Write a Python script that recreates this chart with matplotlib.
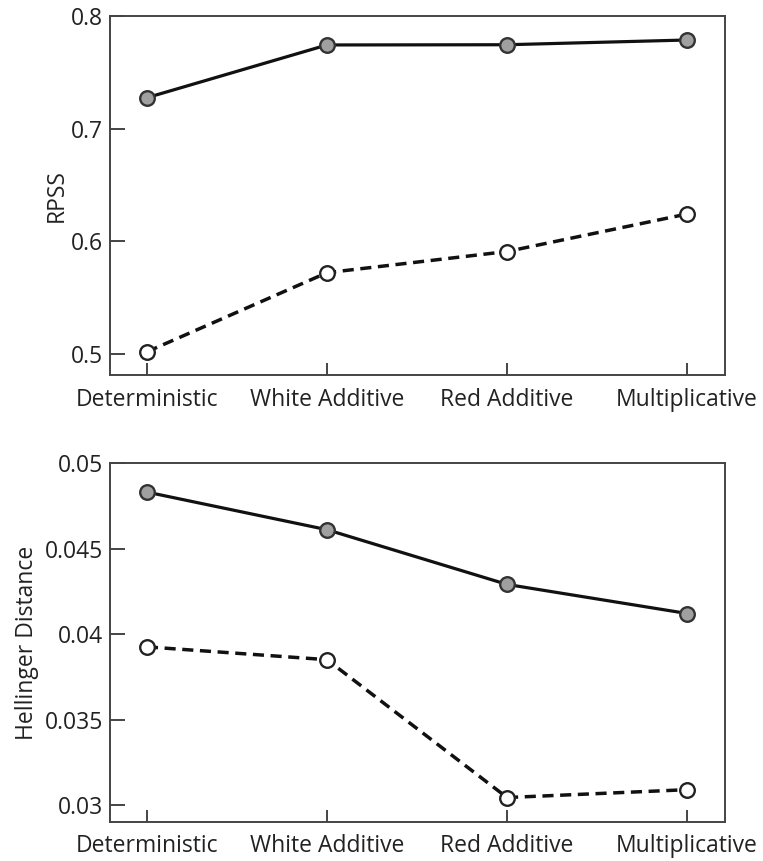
import matplotlib
matplotlib.use("Agg")
import matplotlib.pyplot as plt

categories = ["Deterministic", "White Additive", "Red Additive", "Multiplicative"]

rpss_solid = [0.7275, 0.7743, 0.7745, 0.7787]
rpss_dashed = [0.502, 0.5722, 0.591, 0.6243]

hell_solid = [0.0483, 0.0461, 0.0429, 0.0412]
hell_dashed = [0.03925, 0.0385, 0.03044, 0.0309]

rpss_ticks = [0.5, 0.6, 0.7, 0.8]
rpss_ticklabels = ["0.5", "0.6", "0.7", "0.8"]
hell_ticks = [0.03, 0.035, 0.04, 0.045, 0.05]
hell_ticklabels = ["0.03", "0.035", "0.04", "0.045", "0.05"]

DARK = "#222222"
SPINE = "#444444"
FILL = "#a0a0a0"
FS = 16.5

plt.rcParams.update({
    "font.family": ["Open Sans", "DejaVu Sans"],
    "font.size": FS,
    "text.color": DARK,
    "axes.labelcolor": DARK,
    "xtick.color": SPINE,
    "ytick.color": SPINE,
    "xtick.labelcolor": DARK,
    "ytick.labelcolor": DARK,
})

fig = plt.figure(figsize=(7.63, 8.61), dpi=100)
W, H = 763, 861
ax1 = fig.add_axes([110 / W, 1 - 375 / H, 615 / W, 359 / H])
ax2 = fig.add_axes([110 / W, 1 - 822 / H, 615 / W, 359 / H])

x = list(range(len(categories)))


def draw_panel(ax, solid, dashed, ticks, ticklabels, ylim, ylabel, labelpad):
    ax.plot(x, solid, "-", color="#111111", lw=2.3, marker="o",
            ms=10.5, mfc=FILL, mec="#333333", mew=1.7, zorder=3)
    ax.plot(x, dashed, "--", color="#111111", lw=2.5, marker="o",
            ms=10.5, mfc="white", mec="#222222", mew=1.7, dashes=(3.2, 1.9), zorder=3)
    ax.set_xlim(-0.205, 3.21)
    ax.set_ylim(*ylim)
    ax.set_xticks(x)
    ax.set_xticklabels(categories, fontsize=FS)
    ax.set_yticks(ticks)
    ax.set_yticklabels(ticklabels, fontsize=FS)
    ax.tick_params(axis="x", direction="in", length=9, width=1.4, pad=9)
    ax.tick_params(axis="y", direction="in", length=11, width=1.4, pad=5)
    for s in ax.spines.values():
        s.set_color(SPINE)
        s.set_linewidth(1.4)
    ax.set_ylabel(ylabel, fontsize=FS, labelpad=labelpad)


draw_panel(ax1, rpss_solid, rpss_dashed, rpss_ticks, rpss_ticklabels,
           (0.4814, 0.8), "RPSS", 1.5)
draw_panel(ax2, hell_solid, hell_dashed, hell_ticks, hell_ticklabels,
           (0.02901, 0.05), "Hellinger Distance", 3.8)

fig.savefig("out.png", dpi=100)
